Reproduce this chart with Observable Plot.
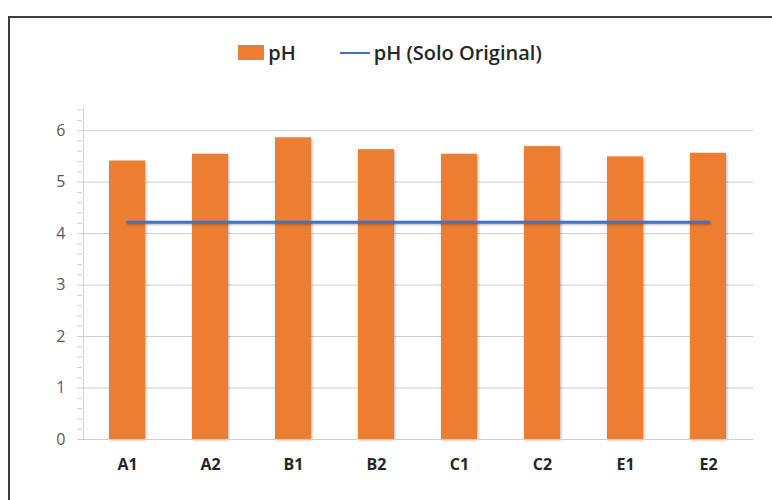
<!DOCTYPE html>
<html>
<head>
<meta charset="utf-8">
<script src="https://cdn.jsdelivr.net/npm/d3@7"></script>
<script src="https://cdn.jsdelivr.net/npm/@observablehq/plot@0.6"></script>
<style>
  html, body { margin: 0; padding: 0; width: 772px; height: 500px; overflow: hidden; background: #fff; }
  #frame { position: absolute; left: 8px; top: 16px; width: 800px; height: 520px; border: 2px solid #3c3c3c; box-sizing: border-box; }
  #legend { position: absolute; top: 39px; left: 0; width: 772px; display: flex; justify-content: center; align-items: center;
    font-family: "Open Sans", sans-serif; font-weight: 600; font-size: 20px; color: #262626; padding-left: 8px; box-sizing: border-box; }
  .sw-bar { display: inline-block; width: 26px; height: 15px; background: #ED7D31; margin-right: 4px; }
  .sw-line { display: inline-block; width: 30px; height: 2px; background: #4472C4; margin-right: 4px; margin-left: 44px; }
  #chart { position: absolute; left: 0; top: 0; }
</style>
</head>
<body>
<div id="frame"></div>
<div id="legend"><span class="sw-bar"></span><span>pH</span><span class="sw-line"></span><span>pH (Solo Original)</span></div>
<div id="chart"></div>
<script>
const categories = ["A1", "A2", "B1", "B2", "C1", "C2", "E1", "E2"];
const phValues = [5.41, 5.54, 5.86, 5.63, 5.54, 5.69, 5.49, 5.56];
const soloOriginal = [4.22, 4.22, 4.22, 4.22, 4.22, 4.22, 4.22, 4.22];
const yTicks = [0, 1, 2, 3, 4, 5, 6];
const yMinorTicks = d3.range(0, 33).map(i => i * 0.2);

const data = categories.map((c, i) => ({cat: c, ph: phValues[i], solo: soloOriginal[i]}));

const marks = [
  Plot.gridY(yTicks, {stroke: "#cfcfcf", strokeOpacity: 1, strokeWidth: 1}),
  Plot.barY(data, {x: "cat", y: "ph", fill: "#ED7D31"}),
  Plot.lineY(data, {x: "cat", y: "solo", stroke: "#4472C4", strokeWidth: 3}),
  Plot.ruleY([0], {stroke: "#cfcfcf", strokeWidth: 1}),
  Plot.ruleX([categories[0]], {y1: 0, y2: 6.45, stroke: "#d4d4d4", strokeWidth: 1, dx: -44}),
  Plot.axisY(yMinorTicks, {tickSize: 5, tickPadding: 0, text: null, stroke: "#d0d0d0", fontSize: 0}),
  Plot.axisY(yTicks, {tickSize: 0, tickPadding: 17, tickFormat: "d", fontSize: 16, fill: "#595959", fontFamily: "Open Sans"}),
  Plot.axisX({tickSize: 0, tickPadding: 19, fontSize: 16, fontWeight: 700, fill: "#262626", fontFamily: "Open Sans"})
];

const plot = Plot.plot({
  width: 772,
  height: 500,
  marginLeft: 82,
  marginRight: 19,
  marginTop: 107,
  marginBottom: 61,
  style: {fontFamily: "Open Sans", background: "transparent", overflow: "visible"},
  x: {domain: categories, paddingInner: 0.57, paddingOuter: 0.285, label: null},
  y: {domain: [0, 6.45], label: null},
  marks
});
document.getElementById("chart").appendChild(plot);
d3.select(plot).selectAll('g[aria-label="bar"]').style("filter", "drop-shadow(1.5px 1.5px 1.5px rgba(0,0,0,0.3))");
d3.select(plot).selectAll('g[aria-label="line"]').style("filter", "drop-shadow(1px 1.5px 1px rgba(0,0,0,0.3))");
</script>
</body>
</html>
